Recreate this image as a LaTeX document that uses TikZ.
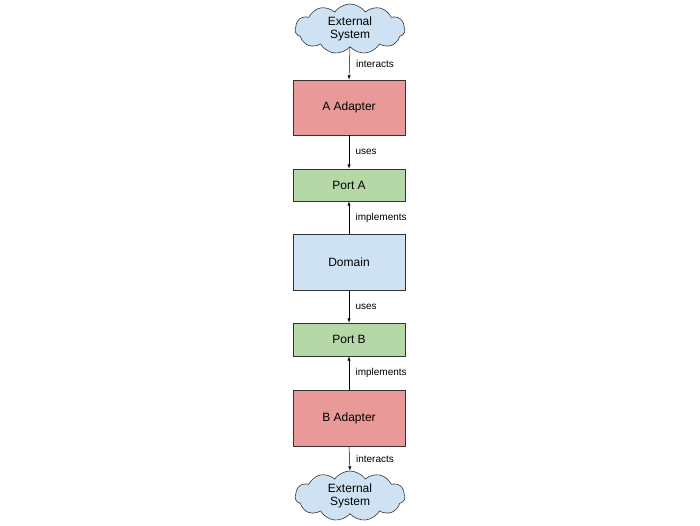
\documentclass[tikz,border=0pt]{standalone}
\usepackage{fontspec}
\setmainfont{Liberation Sans}
\usetikzlibrary{shapes.symbols}
\definecolor{cred}{HTML}{EA9999}
\definecolor{cgreen}{HTML}{B6D7A8}
\definecolor{cblue}{HTML}{CFE2F3}
\begin{document}
\begin{tikzpicture}[x=1pt,y=-1pt,
  box/.style={draw=black!80,line width=0.6pt,minimum width=112pt,font=\fontsize{12}{14}\selectfont,inner sep=0pt},
  cl/.style={cloud,cloud puffs=11,cloud puff arc=110,aspect=2.2,draw=black!80,fill=cblue,line width=0.6pt,minimum width=110pt,minimum height=50pt,inner sep=0pt,align=center,font=\fontsize{12}{13}\selectfont},
  ar/.style={-latex,line width=0.5pt},
  lb/.style={font=\fontsize{10}{12}\selectfont,anchor=west}]
\useasboundingbox (0,0) rectangle (700,525);
\node[cl] (c1) at (350,29) {External\\System};
\node[box,fill=cred,minimum height=55pt] (aa) at (349,107.5) {A Adapter};
\node[box,fill=cgreen,minimum height=32pt] (pa) at (349,185) {Port A};
\node[box,fill=cblue,minimum height=56pt] (dm) at (349,262) {Domain};
\node[box,fill=cgreen,minimum height=33pt] (pb) at (349,339.5) {Port B};
\node[box,fill=cred,minimum height=56pt] (ba) at (349,418) {B Adapter};
\node[cl] (c2) at (350,496) {External\\System};
\draw[ar] (c1.south) -- (aa.north) node[lb,midway,xshift=3pt] {interacts};
\draw[ar] (aa) -- (pa) node[lb,midway,xshift=3pt] {uses};
\draw[ar] (dm) -- (pa) node[lb,midway,xshift=3pt] {implements};
\draw[ar] (dm) -- (pb) node[lb,midway,xshift=3pt] {uses};
\draw[ar] (ba) -- (pb) node[lb,midway,xshift=3pt] {implements};
\draw[ar] (ba.south) -- (c2.north) node[lb,midway,xshift=3pt] {interacts};
\end{tikzpicture}
\end{document}
